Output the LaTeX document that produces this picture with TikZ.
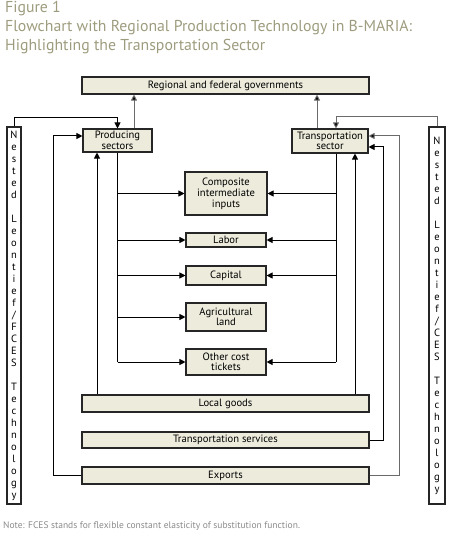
\documentclass[tikz,border=0pt]{standalone}
\usepackage{fontspec}
\setmainfont{PT Sans}
\usetikzlibrary{arrows.meta}
\definecolor{titlecol}{HTML}{9E9C7E}
\definecolor{boxfill}{HTML}{ECEBDC}
\definecolor{notecol}{HTML}{8A8A8A}
\definecolor{linegray}{HTML}{6A6A6A}
\tikzset{
  box/.style={draw=black!85, line width=1.1pt, fill=boxfill, inner sep=1pt, align=center,
    font=\fontsize{10.6}{11}\selectfont},
  nest/.style={draw=black!85, line width=1.1pt, fill=white, inner sep=0pt, align=center,
    minimum height=377pt, font=\fontsize{10.5}{12}\selectfont},
  conn/.style={line width=1pt, draw=black},
  arr/.style={conn, -{Triangle[length=6pt,width=6pt]}},
  garr/.style={arr, draw=linegray, -{Triangle[length=6pt,width=6pt,fill=black]}},
}
\begin{document}
\begin{tikzpicture}[x=1pt,y=-1pt]
\useasboundingbox (0,0) rectangle (452,545);
% title
\node[anchor=north west, inner sep=0pt, align=left, text=titlecol,
  font=\fontsize{15.8}{19}\selectfont] (title) at (5,1)
  {Figure 1\\Flowchart with Regional Production Technology in B-MARIA:\\Highlighting the Transportation Sector};
% boxes
\node[box, minimum width=287pt, minimum height=17pt] (gov) at (225.5,85.5) {Regional and federal governments};
\node[box, minimum width=69pt, minimum height=23pt, font=\fontsize{10.6}{10.5}\selectfont] (prod) at (117.5,140.5) {Producing\\sectors};
\node[box, minimum width=76pt, minimum height=24pt, font=\fontsize{10.6}{10.5}\selectfont] (trans) at (330,141) {Transportation\\sector};
\node[box, minimum width=82pt, minimum height=43pt, font=\fontsize{10.6}{11}\selectfont] (comp) at (226,193.5) {Composite\\intermediate\\inputs};
\node[box, minimum width=80pt, minimum height=14pt] (labor) at (226,240) {Labor};
\node[box, minimum width=80pt, minimum height=19pt] (capital) at (226,275.5) {Capital};
\node[box, minimum width=80pt, minimum height=28pt, font=\fontsize{10.6}{10.5}\selectfont] (agri) at (226,317) {Agricultural\\land};
\node[box, minimum width=80pt, minimum height=26pt, font=\fontsize{10.6}{10.5}\selectfont] (other) at (226,362) {Other cost\\tickets};
\node[box, minimum width=287pt, minimum height=17pt] (local) at (225.5,403.5) {Local goods};
\node[box, minimum width=287pt, minimum height=16pt] (tserv) at (225.5,440) {Transportation services};
\node[box, minimum width=287pt, minimum height=17pt] (exports) at (225.5,475.5) {Exports};
\node[nest, minimum width=14pt] (nestL) at (14,315.5)
 {N\\e\\s\\t\\e\\d\\~\\L\\e\\o\\n\\t\\i\\e\\f\\/\\F\\C\\E\\S\\~\\T\\e\\c\\h\\n\\o\\l\\o\\g\\y};
\node[nest, minimum width=16pt] (nestR) at (437,315.5)
 {N\\e\\s\\t\\e\\d\\~\\L\\e\\o\\n\\t\\i\\e\\f\\/\\C\\E\\S\\~\\T\\e\\c\\h\\n\\o\\l\\o\\g\\y};
% note
\node[anchor=west, inner sep=0pt, text=notecol, font=\fontsize{9.5}{10}\selectfont] (note) at (3,526)
 {Note: FCES stands for flexible constant elasticity of substitution function.};
% connectors to government
\draw[garr] (prod.north -| 134,0) -- (gov.south -| 134,0);
\draw[garr] (trans.north -| 317,0) -- (gov.south -| 317,0);
% nested boxes to sectors
\draw[arr] (nestL.north) -- ++(0,-9) -| (prod.north);
\draw[garr] (nestR.north) -- ++(0,-10) -| (trans.north -| 336,0);
% exports / local goods to producing sectors
\draw[arr] (exports.west) -| (53,136) -- (prod.west |- 53,136);
\draw[arr] (local.north -| 97,0) -- (prod.south -| 97,0);
% producing sectors to inputs
\draw[conn] (prod.south) -- (prod.south |- other.west);
\foreach \b in {comp,labor,capital,agri,other}
  \draw[arr] (prod.south |- \b.west) -- (\b.west);
% transportation sector to inputs
\draw[conn] (trans.south -| 336,0) -- (336,362);
\foreach \b in {comp,labor,capital,other}
  \draw[arr] (\b.east -| 336,0) -- (\b.east);
% local goods, transportation services, exports to transportation sector
\draw[arr] (local.north -| 355,0) -- (trans.south -| 355,0);
\draw[arr] (tserv.east) -| (383,147) -- (trans.east |- 383,147);
\draw[garr] (exports.east) -| (399,136) -- (trans.east |- 399,136);
\end{tikzpicture}
\end{document}
